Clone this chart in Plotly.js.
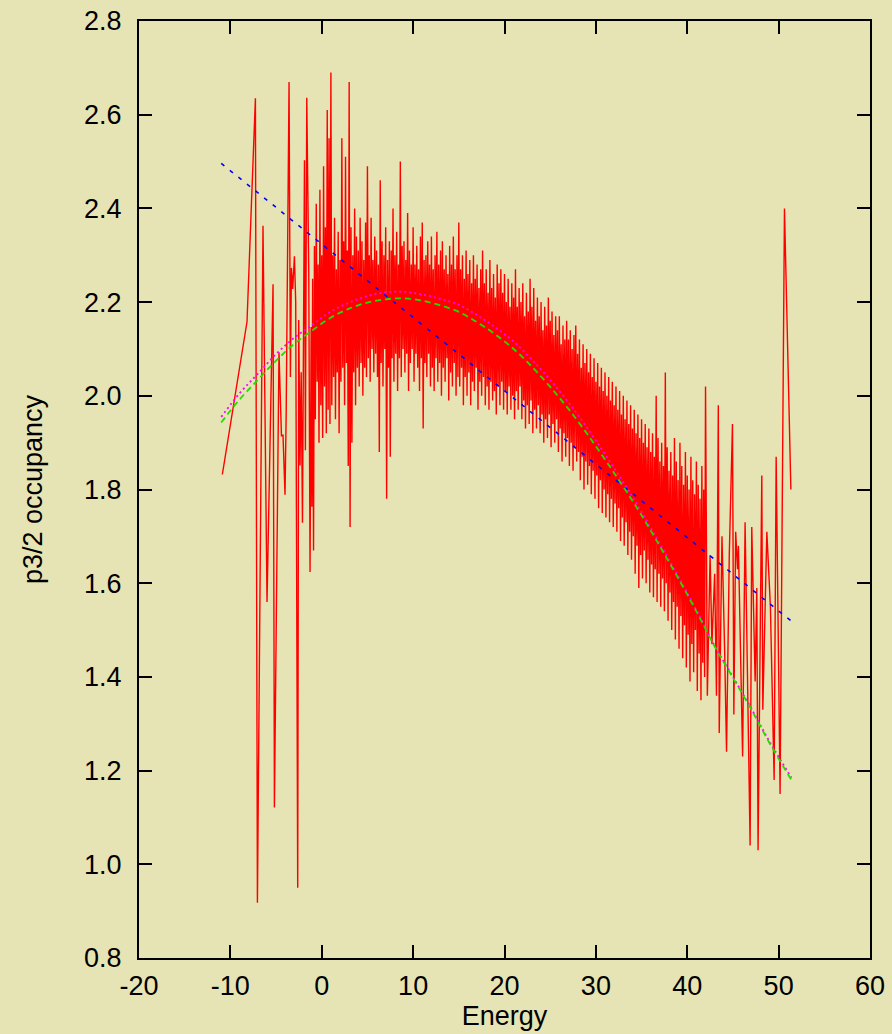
<!DOCTYPE html>
<html>
<head>
<meta charset="utf-8">
<script src="https://cdn.plot.ly/plotly-3.0.1.min.js"></script>
<style>html,body{margin:0;padding:0;background:#e6e4b4;}#chart{width:892px;height:1034px;}</style>
</head>
<body>
<div id="chart"></div>
<script>
// ---- red data series ----
// sparse low-energy part
const energyLow = [-10.88,-8.18,-7.26,-7.04,-6.43,-5.99,-5.33,-5.18,-4.68,-4.41,-4.24,-4.02,-3.89,-3.58,-3.43,-3.32,-3.18,-2.99,-2.85,-2.63,-2.52,-2.38,-2.25,-2.11,-1.89,-1.79,-1.64,-1.42,-1.28,-1.16,-1.08];
const occLow    = [1.832,2.158,2.635,0.918,2.363,1.560,2.238,1.121,2.093,1.915,1.916,1.789,1.967,2.670,2.040,2.273,2.228,2.298,2.200,0.950,2.162,1.851,2.050,1.729,2.503,1.884,2.636,2.261,1.624,2.147,1.763];
// dense band
const energyBand = [
-1.0,-0.9,-0.8,-0.7,-0.6,-0.5,-0.4,-0.3,-0.2,-0.1,
0.0,0.1,0.2,0.3,0.4,0.5,0.6,0.7,0.8,0.9,
1.0,1.1,1.2,1.3,1.4,1.5,1.6,1.7,1.8,1.9,
2.0,2.1,2.2,2.3,2.4,2.5,2.6,2.7,2.8,2.9,
3.0,3.1,3.2,3.3,3.4,3.5,3.6,3.7,3.8,3.9,
4.0,4.1,4.2,4.3,4.4,4.5,4.6,4.7,4.8,4.9,
5.0,5.1,5.2,5.3,5.4,5.5,5.6,5.7,5.8,5.9,
6.0,6.1,6.2,6.3,6.4,6.5,6.6,6.7,6.8,6.9,
7.0,7.1,7.2,7.3,7.4,7.5,7.6,7.7,7.8,7.9,
8.0,8.1,8.2,8.3,8.4,8.5,8.6,8.7,8.8,8.9,
9.0,9.1,9.2,9.3,9.4,9.5,9.6,9.7,9.8,9.9,
10.0,10.1,10.2,10.3,10.4,10.5,10.6,10.7,10.8,10.9,
11.0,11.1,11.2,11.3,11.4,11.5,11.6,11.7,11.8,11.9,
12.0,12.1,12.2,12.3,12.4,12.5,12.6,12.7,12.8,12.9,
13.0,13.1,13.2,13.3,13.4,13.5,13.6,13.7,13.8,13.9,
14.0,14.1,14.2,14.3,14.4,14.5,14.6,14.7,14.8,14.9,
15.0,15.1,15.2,15.3,15.4,15.5,15.6,15.7,15.8,15.9,
16.0,16.1,16.2,16.3,16.4,16.5,16.6,16.7,16.8,16.9,
17.0,17.1,17.2,17.3,17.4,17.5,17.6,17.7,17.8,17.9,
18.0,18.1,18.2,18.3,18.4,18.5,18.6,18.7,18.8,18.9,
19.0,19.1,19.2,19.3,19.4,19.5,19.6,19.7,19.8,19.9,
20.0,20.1,20.2,20.3,20.4,20.5,20.6,20.7,20.8,20.9,
21.0,21.1,21.2,21.3,21.4,21.5,21.6,21.7,21.8,21.9,
22.0,22.1,22.2,22.3,22.4,22.5,22.6,22.7,22.8,22.9,
23.0,23.1,23.2,23.3,23.4,23.5,23.6,23.7,23.8,23.9,
24.0,24.1,24.2,24.3,24.4,24.5,24.6,24.7,24.8,24.9,
25.0,25.1,25.2,25.3,25.4,25.5,25.6,25.7,25.8,25.9,
26.0,26.1,26.2,26.3,26.4,26.5,26.6,26.7,26.8,26.9,
27.0,27.1,27.2,27.3,27.4,27.5,27.6,27.7,27.8,27.9,
28.0,28.1,28.2,28.3,28.4,28.5,28.6,28.7,28.8,28.9,
29.0,29.1,29.2,29.3,29.4,29.5,29.6,29.7,29.8,29.9,
30.0,30.1,30.2,30.3,30.4,30.5,30.6,30.7,30.8,30.9,
31.0,31.1,31.2,31.3,31.4,31.5,31.6,31.7,31.8,31.9,
32.0,32.1,32.2,32.3,32.4,32.5,32.6,32.7,32.8,32.9,
33.0,33.1,33.2,33.3,33.4,33.5,33.6,33.7,33.8,33.9,
34.0,34.1,34.2,34.3,34.4,34.5,34.6,34.7,34.8,34.9,
35.0,35.1,35.2,35.3,35.4,35.5,35.6,35.7,35.8,35.9,
36.0,36.1,36.2,36.3,36.4,36.5,36.6,36.7,36.8,36.9,
37.0,37.1,37.2,37.3,37.4,37.5,37.6,37.7,37.8,37.9,
38.0,38.1,38.2,38.3,38.4,38.5,38.6,38.7,38.8,38.9,
39.0,39.1,39.2,39.3,39.4,39.5,39.6,39.7,39.8,39.9,
40.0,40.1,40.2,40.3,40.4,40.5,40.6,40.7,40.8,40.9,
41.0,41.1,41.2,41.3,41.4,41.5,41.6,41.7,41.8,41.9];
const occBand = [
2.25,1.67,2.32,1.95,2.41,2.03,2.28,1.90,2.44,1.98,
2.30,1.91,2.49,2.02,2.36,1.92,2.61,1.97,2.55,1.94,
2.69,1.98,2.30,2.04,2.38,1.95,2.27,2.05,2.35,1.92,
2.29,2.03,2.55,2.06,2.33,1.98,2.51,2.07,2.31,1.85,
2.67,1.72,2.36,1.90,2.30,2.05,2.40,1.98,2.34,2.06,
2.31,2.02,2.38,2.07,2.33,2.00,2.29,2.06,2.37,2.04,
2.49,2.08,2.30,2.03,2.38,2.10,2.29,2.05,2.34,2.09,
2.31,2.04,2.28,1.88,2.46,2.07,2.33,2.02,2.30,2.10,
2.36,1.78,2.29,2.06,2.33,1.87,2.31,2.08,2.40,2.03,
2.30,2.09,2.35,2.01,2.28,2.08,2.50,2.04,2.32,2.10,
2.33,2.05,2.29,2.09,2.39,2.01,2.31,2.07,2.28,2.10,
2.36,2.03,2.28,2.09,2.32,2.06,2.27,2.01,2.34,2.08,
2.37,1.93,2.29,2.07,2.30,2.04,2.33,2.09,2.28,2.02,
2.34,2.06,2.27,2.01,2.30,2.08,2.35,2.03,2.28,2.07,
2.31,2.00,2.33,2.06,2.27,2.03,2.30,2.08,2.26,1.99,
2.32,2.05,2.28,2.02,2.34,2.07,2.27,2.00,2.30,2.04,
2.37,2.02,2.27,2.06,2.30,1.98,2.25,2.04,2.31,2.00,
2.26,2.05,2.29,1.98,2.24,2.03,2.30,2.01,2.25,2.06,
2.28,1.97,2.23,2.03,2.27,2.00,2.31,2.04,2.24,1.98,
2.27,2.02,2.22,1.97,2.29,2.03,2.23,1.99,2.26,2.01,
2.21,1.96,2.28,2.02,2.24,1.98,2.27,2.03,2.22,1.97,
2.26,2.01,2.20,1.96,2.25,2.02,2.19,1.97,2.24,2.00,
2.21,1.95,2.27,2.01,2.19,1.97,2.23,2.02,2.20,1.95,
2.24,1.99,2.17,1.93,2.22,1.98,2.18,1.94,2.25,1.99,
2.19,1.92,2.23,1.97,2.16,1.93,2.21,1.98,2.17,1.92,
2.20,1.96,2.14,1.90,2.19,1.95,2.15,1.91,2.21,1.96,
2.16,1.89,2.18,1.94,2.13,1.90,2.17,1.95,2.14,1.88,
2.17,1.93,2.11,1.86,2.15,1.92,2.12,1.87,2.16,1.91,
2.12,1.85,2.14,1.90,2.10,1.84,2.13,1.89,2.15,1.86,
2.09,1.88,2.12,1.82,2.06,1.87,2.11,1.80,2.07,1.86,
2.10,1.81,2.05,1.85,2.09,1.79,2.04,1.84,2.08,1.78,
2.03,1.83,2.07,1.76,2.02,1.82,2.06,1.75,2.01,1.80,
2.05,1.74,2.00,1.79,2.04,1.73,1.99,1.78,2.03,1.72,
1.98,1.77,2.02,1.71,1.97,1.76,2.01,1.69,1.96,1.74,
2.00,1.68,1.95,1.73,1.99,1.66,1.94,1.71,1.98,1.65,
1.93,1.70,1.97,1.62,1.92,1.68,1.96,1.59,1.91,1.66,
1.95,1.61,1.90,1.67,1.94,1.60,1.89,1.65,1.93,1.58,
1.88,1.64,1.92,1.57,1.87,1.63,2.00,1.56,1.91,1.62,
1.86,1.55,1.90,1.61,1.85,1.54,2.05,1.60,1.89,1.52,
1.84,1.58,1.88,1.50,1.83,1.56,1.91,1.48,1.86,1.55,
1.82,1.46,1.90,1.53,1.85,1.44,1.81,1.51,1.88,1.42,
1.83,1.49,1.80,1.39,1.87,1.47,1.82,1.41,1.79,1.50,
1.86,1.37,1.81,1.45,1.78,1.35,1.85,1.43,1.80,1.40];
// sparse high-energy part
const energyHigh = [42.0,42.2,42.5,42.7,43.0,43.2,43.4,43.5,43.8,44.1,44.3,44.6,44.95,45.1,45.3,45.5,45.6,46.06,46.33,46.88,47.06,47.43,47.61,47.75,48.16,48.27,48.71,49.1,49.51,49.73,50.16,50.64,51.34];
const occHigh    = [2.02,1.36,1.66,1.47,1.62,1.36,1.98,1.28,1.70,1.45,1.24,1.66,1.94,1.32,1.71,1.63,1.68,1.23,1.73,1.04,1.72,1.39,1.59,1.03,1.83,1.33,1.71,1.55,1.18,1.87,1.15,2.40,1.80];

// ---- fitted curves ----
const fitEnergy = [-11,-9,-7,-5,-3,-1,1,3,5,7,9,11,13,15,17,19,21,23,25,27,29,31,33,35,37,39,41,43,45,47,49,51.4];
const fitMagenta = [1.955,2.005,2.047,2.089,2.124,2.152,2.180,2.199,2.213,2.221,2.222,2.216,2.207,2.194,2.172,2.146,2.116,2.077,2.034,1.986,1.933,1.875,1.815,1.752,1.684,1.615,1.543,1.466,1.400,1.333,1.262,1.185];
const fitGreen   = [1.943,1.992,2.034,2.075,2.111,2.140,2.167,2.186,2.199,2.206,2.208,2.203,2.193,2.179,2.157,2.131,2.100,2.062,2.019,1.972,1.920,1.864,1.806,1.745,1.679,1.611,1.540,1.465,1.398,1.331,1.259,1.180];
const linEnergy = [-11, 51.4];
const linBlue   = [2.496, 1.519];

// ---- axis ticks ----
const xTicks = [-20,-10,0,10,20,30,40,50,60];
const yTicks = [0.8,1.0,1.2,1.4,1.6,1.8,2.0,2.2,2.4,2.6,2.8];

const energy = energyLow.concat(energyBand, energyHigh);
const occ = occLow.concat(occBand, occHigh);

const traces = [
  {x: energy, y: occ, type: 'scatter', mode: 'lines', line: {color: '#ff0000', width: 1.4}, hoverinfo: 'skip'},
  {x: linEnergy, y: linBlue, type: 'scatter', mode: 'lines', line: {color: '#0000ff', width: 1.6, dash: '4px,7px'}},
  {x: fitEnergy, y: fitMagenta, type: 'scatter', mode: 'lines', line: {color: '#ff00ff', width: 1.8, dash: '2px,3px', shape: 'spline'}},
  {x: fitEnergy, y: fitGreen, type: 'scatter', mode: 'lines', line: {color: '#22dd00', width: 1.8, dash: '6px,4px', shape: 'spline'}}
];

const axisCommon = {
  ticks: 'inside', ticklen: 13, tickwidth: 2, tickcolor: '#000',
  showline: true, linewidth: 2, linecolor: '#000', mirror: 'ticks',
  showgrid: false, zeroline: false,
  tickfont: {size: 27, color: '#000'}
};

const layout = {
  width: 892, height: 1034,
  paper_bgcolor: '#e6e4b4', plot_bgcolor: '#e6e4b4',
  margin: {l: 139, r: 22, t: 21, b: 76},
  showlegend: false,
  font: {family: '"Liberation Sans", Arial, Helvetica, sans-serif', size: 27, color: '#000'},
  xaxis: Object.assign({}, axisCommon, {
    range: [-20, 60], tickmode: 'array', tickvals: xTicks, ticktext: xTicks.map(String),
    ticklabelstandoff: 3,
    title: {text: 'Energy', font: {size: 27, color: '#000'}, standoff: 3}
  }),
  yaxis: Object.assign({}, axisCommon, {
    range: [0.8, 2.8], tickmode: 'array', tickvals: yTicks, ticktext: yTicks.map(v => v.toFixed(1)),
    ticklabelstandoff: 10,
    title: {text: 'p3/2 occupancy', font: {size: 27, color: '#000'}, standoff: 34}
  })
};

Plotly.newPlot('chart', traces, layout, {staticPlot: true, displayModeBar: false});
</script>
</body>
</html>
